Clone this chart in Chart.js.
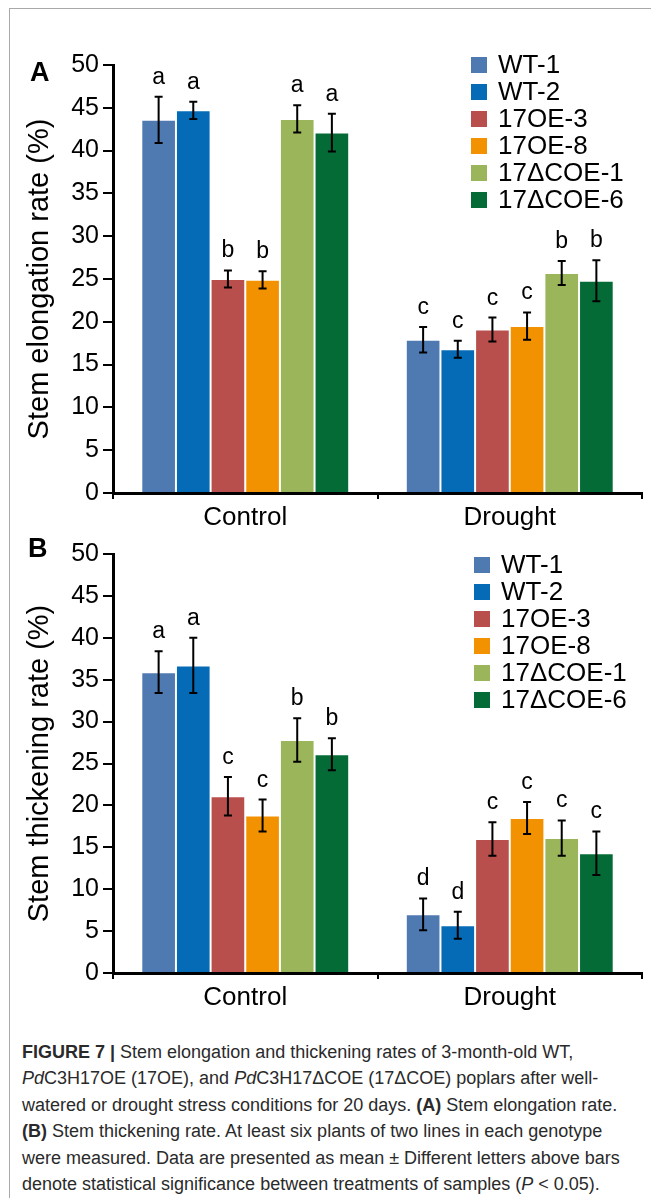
<!DOCTYPE html>
<html>
<head>
<meta charset="utf-8">
<script src="https://cdn.jsdelivr.net/npm/chart.js@4.4.0/dist/chart.umd.min.js"></script>
<style>
  body { margin: 0; background: #fff; width: 651px; height: 1203px; position: relative; overflow: hidden; font-family: "Liberation Sans", Arial, sans-serif; }
  #frame { position: absolute; left: 9px; top: 8px; width: 650px; height: 1189px; border-left: 1px solid #a8a8a8; border-top: 1px solid #a8a8a8; }
  canvas { position: absolute; left: 10px; }
  #chartA { top: 9px; }
  #chartB { top: 535px; }
  #caption { position: absolute; left: 22px; top: 1039px; font-size: 18px; line-height: 26.4px; color: #2a2a2a; white-space: nowrap; }
</style>
</head>
<body>
<div id="frame"></div>
<canvas id="chartA" width="641" height="545"></canvas>
<canvas id="chartB" width="641" height="490"></canvas>
<div id="caption">
<b>FIGURE 7 |</b> Stem elongation and thickening rates of 3-month-old WT,<br>
<i>Pd</i>C3H17OE (17OE), and <i>Pd</i>C3H17ΔCOE (17ΔCOE) poplars after well-<br>
watered or drought stress conditions for 20 days. <b>(A)</b> Stem elongation rate.<br>
<b>(B)</b> Stem thickening rate. At least six plants of two lines in each genotype<br>
were measured. Data are presented as mean ± Different letters above bars<br>
denote statistical significance between treatments of samples (<i>P</i> &lt; 0.05).
</div>
<script>
// categories and lines
const categories = ["Control", "Drought"];
const lines = ["WT-1", "WT-2", "17OE-3", "17OE-8", "17ΔCOE-1", "17ΔCOE-6"];
const colors = ["#4F79B1", "#066BB6", "#B84F4C", "#F29200", "#9BB55B", "#046B37"];

// panel A - stem elongation rate (%), one row per line: [Control, Drought]
const elongMeans = [[43.6, 17.9], [44.7, 16.8], [25.0, 19.1], [24.9, 19.5], [43.7, 25.7], [42.1, 24.8]];
const elongErrors = [[2.7, 1.5], [1.0, 1.0], [1.0, 1.4], [1.0, 1.6], [1.6, 1.4], [2.2, 2.4]];
const elongLetters = [["a", "c"], ["a", "c"], ["b", "c"], ["b", "c"], ["a", "b"], ["a", "b"]];

// panel B - stem thickening rate (%)
const thickMeans = [[35.9, 7.0], [36.7, 5.7], [21.1, 16.0], [18.8, 18.5], [27.8, 16.1], [26.1, 14.3]];
const thickErrors = [[2.5, 1.9], [3.3, 1.6], [2.3, 2.0], [1.9, 1.9], [2.6, 2.1], [1.9, 2.6]];
const thickLetters = [["a", "d"], ["a", "d"], ["c", "c"], ["c", "c"], ["b", "c"], ["b", "c"]];

const FONT = '"Liberation Sans", Arial, sans-serif';

// error bars + significance letters
const errorBarPlugin = {
  id: 'errorBars',
  afterDatasetsDraw(chart, args, opts) {
    const ctx = chart.ctx;
    const y = chart.scales.y;
    ctx.save();
    ctx.strokeStyle = '#000';
    ctx.lineWidth = 2;
    ctx.fillStyle = '#000';
    ctx.font = '23px ' + FONT;
    ctx.textAlign = 'center';
    ctx.textBaseline = 'alphabetic';
    chart.data.datasets.forEach((ds, i) => {
      chart.getDatasetMeta(i).data.forEach((bar, j) => {
        const v = ds.data[j], e = opts.errors[i][j];
        const top = y.getPixelForValue(v + e), bot = y.getPixelForValue(v - e);
        ctx.beginPath();
        ctx.moveTo(bar.x, top); ctx.lineTo(bar.x, bot);
        ctx.moveTo(bar.x - 4, top); ctx.lineTo(bar.x + 4, top);
        ctx.moveTo(bar.x - 4, bot); ctx.lineTo(bar.x + 4, bot);
        ctx.stroke();
        ctx.fillText(opts.letters[i][j], bar.x, top - 13);
      });
    });
    ctx.restore();
  }
};

// legend at top right + panel letter
const sideLegendPlugin = {
  id: 'sideLegend',
  afterDraw(chart, args, opts) {
    const ctx = chart.ctx;
    ctx.save();
    ctx.textBaseline = 'middle';
    ctx.textAlign = 'left';
    ctx.font = '26px ' + FONT;
    chart.data.datasets.forEach((ds, i) => {
      const cy = opts.y + i * 27;
      ctx.fillStyle = ds.backgroundColor;
      ctx.fillRect(opts.x, cy - 8, 16, 16);
      ctx.fillStyle = '#000';
      ctx.fillText(ds.label, opts.x + 27, cy + 1);
    });
    ctx.font = 'bold 27px ' + FONT;
    ctx.textBaseline = 'alphabetic';
    ctx.fillText(opts.panel, opts.panelX, opts.panelY);
    ctx.restore();
  }
};

function makeChart(id, title, means, errors, letters, padTop, padBottom, legend) {
  return new Chart(document.getElementById(id), {
    type: 'bar',
    data: {
      labels: categories,
      datasets: lines.map((name, i) => ({
        label: name,
        data: means[i],
        backgroundColor: colors[i],
        borderColor: 'rgba(255,255,255,0.35)',
        borderWidth: 1,
        categoryPercentage: 0.786,
        barPercentage: 1.0
      }))
    },
    options: {
      responsive: false,
      animation: false,
      devicePixelRatio: 1,
      layout: { padding: { top: padTop, right: 9, bottom: padBottom, left: 0 } },
      plugins: {
        legend: { display: false },
        tooltip: { enabled: false },
        errorBars: { errors: errors, letters: letters },
        sideLegend: legend
      },
      scales: {
        x: {
          offset: true,
          afterFit: s => { s.height = 44; },
          grid: { offset: true, drawOnChartArea: false, drawTicks: true, tickLength: 6, color: '#000', lineWidth: 2 },
          border: { color: '#000', width: 3 },
          ticks: { color: '#000', font: { family: FONT, size: 26 }, padding: 3 }
        },
        y: {
          min: 0, max: 50,
          afterFit: s => { s.width = 103; },
          grid: { drawOnChartArea: false, drawTicks: true, tickLength: 10, color: '#000', lineWidth: 2 },
          border: { color: '#000', width: 3 },
          ticks: { stepSize: 5, color: '#000', font: { family: FONT, size: 25 }, padding: 4 },
          title: { display: true, text: title, color: '#000', font: { family: FONT, size: 29 }, padding: { top: 13, bottom: 0 } }
        }
      }
    },
    plugins: [errorBarPlugin, sideLegendPlugin]
  });
}

makeChart('chartA', 'Stem elongation rate (%)', elongMeans, elongErrors, elongLetters, 56, 17,
  { x: 461, y: 56, panel: 'A', panelX: 20, panelY: 72 });
makeChart('chartB', 'Stem thickening rate (%)', thickMeans, thickErrors, thickLetters, 11, 8,
  { x: 464, y: 30, panel: 'B', panelX: 18, panelY: 22 });
</script>
</body>
</html>
